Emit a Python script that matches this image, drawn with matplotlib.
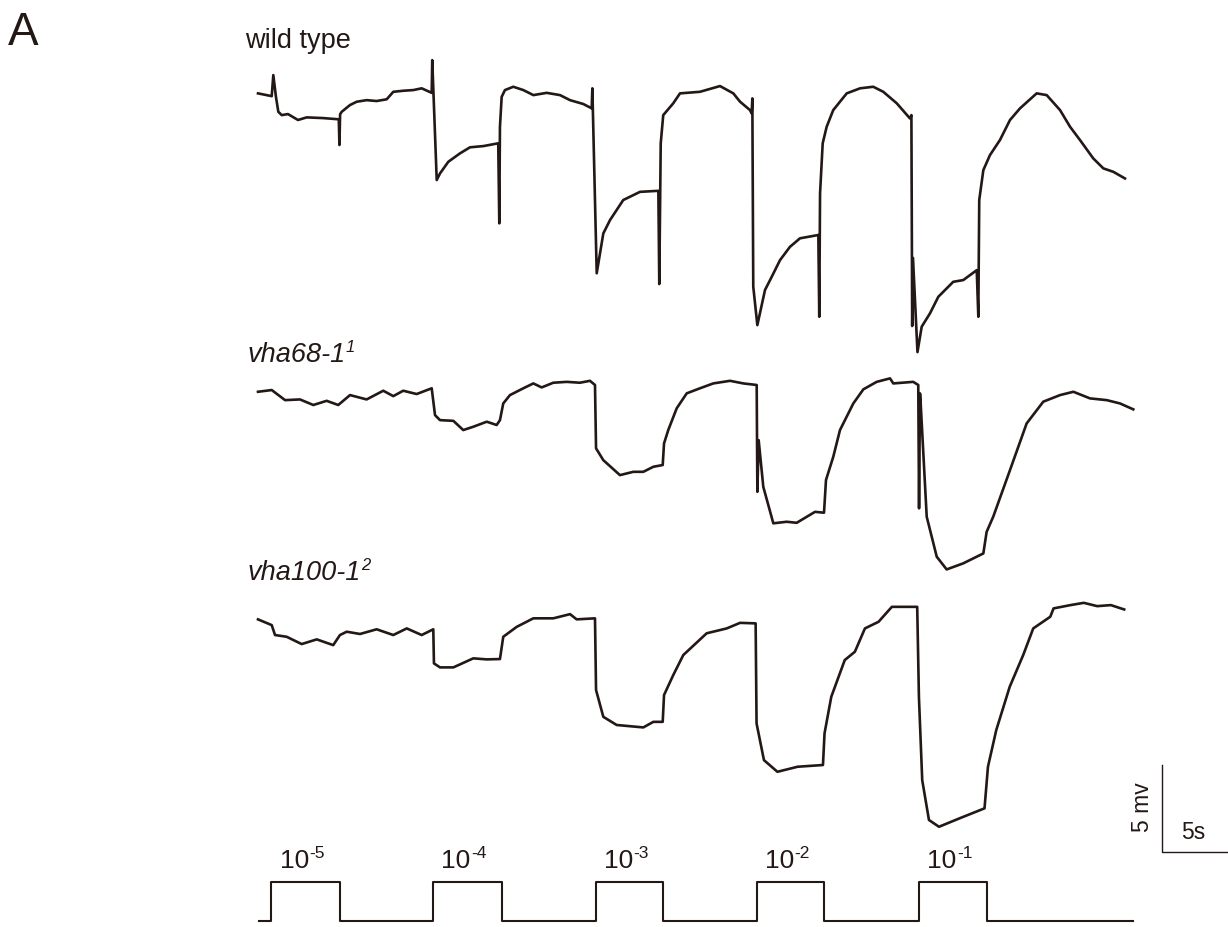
"""Receptor potential traces for wild type and two vha mutants.

Three voltage traces stacked above the stimulus protocol (five 5 s pulses of
increasing concentration), with a 5 mV / 5 s scale bar at the lower right.
Times are in seconds, voltages in mV relative to the start of each trace.
"""

import matplotlib
matplotlib.use("Agg")
import matplotlib.pyplot as plt
import numpy as np

INK = "#231815"

# --- wild type ------------------------------------------------------------
WT_T = [0.0, 1.04, 1.16, 1.36, 1.54, 1.8, 2.27, 3.03, 3.69, 4.92, 6.12, 6.17,
        6.22, 6.34, 6.97, 7.48, 8.23, 8.99, 9.75, 10.25, 11.0, 11.77, 12.4,
        13.16, 13.2, 13.54, 13.79, 14.42, 15.3, 16.06, 17.07, 18.2, 18.28,
        18.33, 18.46, 18.71, 19.34, 20.1, 20.86, 21.87, 22.88, 23.64, 24.64,
        25.28, 25.33, 25.66, 26.16, 26.67, 27.67, 28.94, 30.33, 30.4, 30.51,
        30.7, 31.46, 31.97, 33.48, 35.0, 36.01, 36.52, 37.27, 37.4, 37.45,
        37.52, 37.83, 38.41, 38.92, 39.55, 40.3, 41.06, 42.45, 42.52, 42.58,
        42.78, 43.08, 43.58, 44.6, 45.61, 46.61, 47.37, 48.39, 49.39, 49.5,
        49.56, 49.62, 49.96, 50.28, 50.91, 51.54, 52.67, 53.43, 54.45, 54.57,
        54.64, 54.95, 55.45, 56.21, 56.97, 57.73, 58.99, 59.75, 60.76, 61.52,
        62.27, 63.28, 64.04, 64.8, 65.68]
WT_MV = [0.0, -0.16, 1.05, -0.2, -1.06, -1.25, -1.19, -1.53, -1.38, -1.42,
         -1.49, -2.97, -1.2, -1.06, -0.67, -0.48, -0.39, -0.44, -0.34, 0.09,
         0.15, 0.19, 0.29, 0.03, 1.91, -4.98, -4.6, -3.93, -3.45, -3.1, -3.03,
         -2.87, -7.47, -1.92, -0.2, 0.19, 0.38, 0.19, -0.1, 0.03, -0.1, -0.39,
         -0.61, -0.86, 0.29, -10.34, -8.05, -7.28, -6.13, -5.66, -5.6, -10.96,
         -2.87, -1.25, -0.57, 0.0, 0.09, 0.42, 0.0, -0.48, -0.96, -1.15, -0.29,
         -11.11, -13.32, -11.3, -10.54, -9.58, -8.82, -8.33, -8.14, -12.84,
         -5.75, -2.87, -1.92, -0.96, 0.0, 0.29, 0.38, 0.09, -0.57, -1.44,
         -1.25, -13.37, -9.46, -14.87, -13.41, -12.64, -11.69, -10.83, -10.73,
         -10.16, -12.84, -6.13, -4.41, -3.55, -2.68, -1.53, -0.86, 0.0, -0.1,
         -0.96, -1.92, -2.68, -3.74, -4.31, -4.51, -4.89]

# --- vha68-1 --------------------------------------------------------------
V68_T = [0.0, 1.04, 2.05, 3.18, 4.19, 5.2, 6.08, 6.97, 8.23, 9.49, 10.25,
         11.0, 12.02, 13.16, 13.41, 13.79, 14.8, 15.55, 16.31, 17.33, 18.08,
         18.33, 18.58, 19.09, 20.1, 20.86, 21.49, 22.37, 23.39, 24.39, 25.15,
         25.53, 25.61, 26.16, 27.42, 28.43, 29.19, 29.95, 30.66, 30.76, 31.08,
         31.72, 32.48, 33.48, 34.49, 35.76, 36.77, 37.78, 37.83, 37.93, 38.28,
         39.04, 40.05, 40.81, 42.2, 42.88, 43.03, 43.58, 44.09, 45.1, 45.86,
         46.87, 47.88, 48.13, 49.64, 50.02, 50.08, 50.15, 50.19, 50.66, 51.42,
         52.17, 53.43, 54.95, 55.2, 55.7, 56.97, 58.23, 59.49, 60.76, 61.77,
         63.03, 64.3, 65.3, 66.31]
V68_MV = [0.0, 0.1, -0.48, -0.44, -0.76, -0.52, -0.76, -0.19, -0.44, 0.06,
          -0.25, 0.06, -0.13, 0.2, -1.34, -1.63, -1.67, -2.2, -2.01, -1.72,
          -1.91, -1.63, -0.67, -0.19, 0.2, 0.48, 0.25, 0.52, 0.57, 0.52, 0.63,
          0.39, -3.25, -3.93, -4.79, -4.6, -4.6, -4.31, -4.21, -2.97, -2.2,
          -0.95, -0.09, 0.2, 0.48, 0.63, 0.48, 0.39, -5.75, -2.78, -5.46, -7.56,
          -7.47, -7.53, -6.9, -6.95, -5.07, -3.74, -2.2, -0.67, 0.14, 0.57,
          0.77, 0.48, 0.57, 0.39, -6.7, -0.09, -0.48, -7.18, -9.48, -10.21,
          -9.86, -9.29, -8.05, -7.18, -4.5, -1.82, -0.57, -0.19, 0.0, -0.38,
          -0.48, -0.67, -1.01]

# --- vha100-1 -------------------------------------------------------------
V100_T = [0.0, 1.04, 1.29, 2.17, 3.31, 4.45, 5.7, 6.21, 6.72, 7.73, 8.99,
          10.25, 11.27, 12.4, 13.28, 13.33, 13.79, 14.8, 16.31, 17.33, 18.33,
          18.58, 19.6, 20.86, 22.37, 23.64, 24.14, 25.53, 25.61, 26.16, 27.17,
          29.19, 29.95, 30.66, 30.76, 31.46, 32.22, 33.99, 35.51, 36.52, 37.7,
          37.77, 38.33, 39.35, 40.88, 42.8, 42.92, 43.43, 44.45, 45.22, 45.98,
          47.01, 48.02, 49.94, 50.07, 50.32, 50.83, 51.59, 53.13, 55.04, 55.3,
          55.93, 56.95, 57.97, 58.73, 60.02, 60.27, 61.55, 62.56, 63.58, 64.61,
          65.62]
V100_MV = [0.0, -0.33, -0.9, -1.0, -1.42, -1.15, -1.48, -0.9, -0.71, -0.84,
           -0.57, -0.9, -0.52, -0.9, -0.57, -2.53, -2.76, -2.76, -2.24, -2.3,
           -2.28, -1.0, -0.43, 0.06, 0.06, 0.3, 0.0, 0.06, -4.06, -5.6, -6.07,
           -6.21, -5.89, -5.89, -4.35, -3.2, -2.05, -0.8, -0.52, -0.2, -0.23,
           -5.98, -8.09, -8.76, -8.47, -8.37, -6.55, -4.45, -2.34, -1.86, -0.52,
           -0.14, 0.72, 0.72, -4.45, -9.24, -11.53, -11.92, -11.44, -10.86,
           -8.47, -6.36, -3.87, -2.05, -0.52, 0.15, 0.63, 0.82, 0.95, 0.76,
           0.82, 0.57]

# --- stimulus protocol ----------------------------------------------------
PULSE_ON = [1.02, 13.26, 25.6, 37.8, 50.08]
PULSE_OFF = [6.2, 18.45, 30.68, 42.88, 55.23]
PULSE_LABELS = ["-5", "-4", "-3", "-2", "-1"]
STIM_START, STIM_END = 0.08, 66.3

TRACE_LABELS = ["wild type", "vha68-1", "vha100-1"]
TRACE_NOTES = ["", "1", "2"]

# layout (data units: s horizontally, mV vertically)
TRACE_BASE = [47.91, 30.76, 17.68]
LABEL_Y = [50.52, 32.47, 19.95]
STIM_LOW, STIM_HIGH = 0.35, 2.59
SCALE_X, SCALE_Y = 68.48, 4.31


def stimulus_path():
    xs, ys = [STIM_START], [STIM_LOW]
    for on, off in zip(PULSE_ON, PULSE_OFF):
        xs += [on, on, off, off]
        ys += [STIM_LOW, STIM_HIGH, STIM_HIGH, STIM_LOW]
    xs.append(STIM_END)
    ys.append(STIM_LOW)
    return xs, ys


def sup(ax, base, text, size, **kw):
    """Small superscript hung off the top right corner of another text."""
    ax.annotate(text, xy=(1.0, 1.0), xycoords=base, xytext=(0.5, 1.5),
                textcoords="offset points", ha="left", va="top",
                fontsize=size, color=INK, **kw)


def main():
    plt.rcParams["font.family"] = ["Liberation Sans", "DejaVu Sans"]

    fig = plt.figure(figsize=(12.28, 9.27), dpi=100)
    ax = fig.add_axes([0, 0, 1, 1])
    ax.set_xlim(-19.545, 73.485)
    ax.set_ylim(0, 53.276)
    ax.axis("off")

    traces = [(WT_T, WT_MV), (V68_T, V68_MV), (V100_T, V100_MV)]
    for (t, mv), base in zip(traces, TRACE_BASE):
        ax.plot(t, np.asarray(mv) + base, color=INK, lw=1.9,
                solid_joinstyle="round")

    # trace names
    ax.text(-0.98, LABEL_Y[0], TRACE_LABELS[0], fontsize=19.5, color=INK,
            va="baseline")
    for lab, note, y in zip(TRACE_LABELS[1:], TRACE_NOTES[1:], LABEL_Y[1:]):
        txt = ax.text(-0.83, y, lab, fontsize=19.5, style="italic",
                      color=INK, va="baseline")
        sup(ax, txt, note, 12, style="italic")

    ax.text(-18.95, 50.69, "A", fontsize=33, color=INK, va="baseline")

    # stimulus
    sx, sy = stimulus_path()
    ax.plot(sx, sy, color=INK, lw=1.5)
    for on, off, lab in zip(PULSE_ON, PULSE_OFF, PULSE_LABELS):
        txt = ax.text((on + off) / 2 - 0.85, 3.39, "10", fontsize=19,
                      ha="center", va="baseline", color=INK)
        ax.annotate(lab, xy=(1.0, 1.0), xycoords=txt, xytext=(0.3, 2.0),
                    textcoords="offset points", ha="left", va="top",
                    fontsize=12.5, color=INK)

    # scale bar: 5 mV, 5 s
    ax.plot([SCALE_X, SCALE_X, SCALE_X + 5], [SCALE_Y + 5, SCALE_Y, SCALE_Y],
            color=INK, lw=1.0)
    ax.text(SCALE_X - 1.45, SCALE_Y + 2.6, "5 mv", rotation=90, fontsize=16.5,
            ha="center", va="center", color=INK)
    ax.text(SCALE_X + 2.4, SCALE_Y + 1.1, "5s", fontsize=16.5, ha="center",
            va="center", color=INK)

    fig.savefig("out.png", dpi=100)
    plt.close(fig)


if __name__ == "__main__":
    main()
